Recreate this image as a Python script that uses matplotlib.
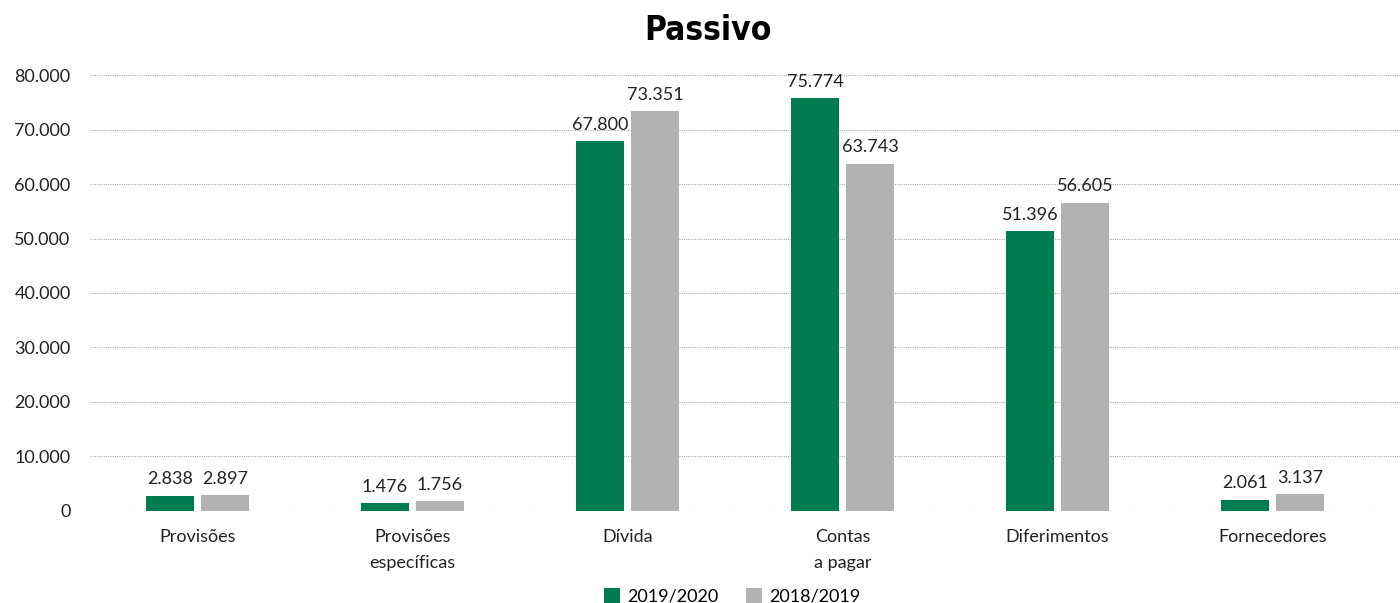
import numpy as np
import matplotlib
matplotlib.use("Agg")
import matplotlib.pyplot as plt

plt.rcParams['font.family'] = ['Lato', 'DejaVu Sans']

categories = ["Provisões", "Provisões\nespecíficas", "Dívida", "Contas\na pagar", "Diferimentos", "Fornecedores"]
v_2020 = [2838, 1476, 67800, 75774, 51396, 2061]
v_2019 = [2897, 1756, 73351, 63743, 56605, 3137]
series_labels = ["2019/2020", "2018/2019"]
yticks = [0, 10000, 20000, 30000, 40000, 50000, 60000, 70000, 80000]

green = "#007D50"
grey = "#B2B2B2"


def fmt(v):
    return f"{v:,}".replace(",", ".")


fig = plt.figure(figsize=(14, 6.03), dpi=100)
ax = fig.add_axes([0.0643, 0.1526, 0.9357, 0.723])

x = np.arange(len(categories))
w = 0.219
off = 0.128
b1 = ax.bar(x - off, v_2020, w, color=green, label=series_labels[0], zorder=3)
b2 = ax.bar(x + off, v_2019, w, color=grey, label=series_labels[1], zorder=3)

for bars, vals in ((b1, v_2020), (b2, v_2019)):
    for b, v in zip(bars, vals):
        ax.annotate(fmt(v), (b.get_x() + b.get_width() / 2, v), xytext=(0, 6),
                    textcoords="offset points", ha="center", va="bottom",
                    fontsize=13, color="#222222")

ax.set_ylim(0, 80000)
ax.set_xlim(-0.5, 5.593)
ax.set_yticks(yticks)
ax.set_yticklabels([fmt(t) for t in yticks], fontsize=13, color="#222222")
ax.set_xticks(x)
ax.set_xticklabels(categories, fontsize=13, color="#222222", linespacing=1.75)
ax.tick_params(axis="x", length=0, pad=13)
ax.tick_params(axis="y", length=0, pad=14)
ax.grid(axis="y", linestyle=(0, (1, 1)), color="#AAAAAA", linewidth=0.8, zorder=0)
for s in ax.spines.values():
    s.set_visible(False)

fig.text(0.506, 0.95, "Passivo", ha="center", va="center", fontsize=24,
         fontweight="bold", fontstretch="condensed", family=["DejaVu Sans"])

fig.legend(loc="lower center", bbox_to_anchor=(0.523, -0.03), ncol=2, frameon=False,
           fontsize=13, handlelength=0.9, handleheight=0.9, columnspacing=1.5,
           handletextpad=0.4)

fig.savefig("out.png", dpi=100)
